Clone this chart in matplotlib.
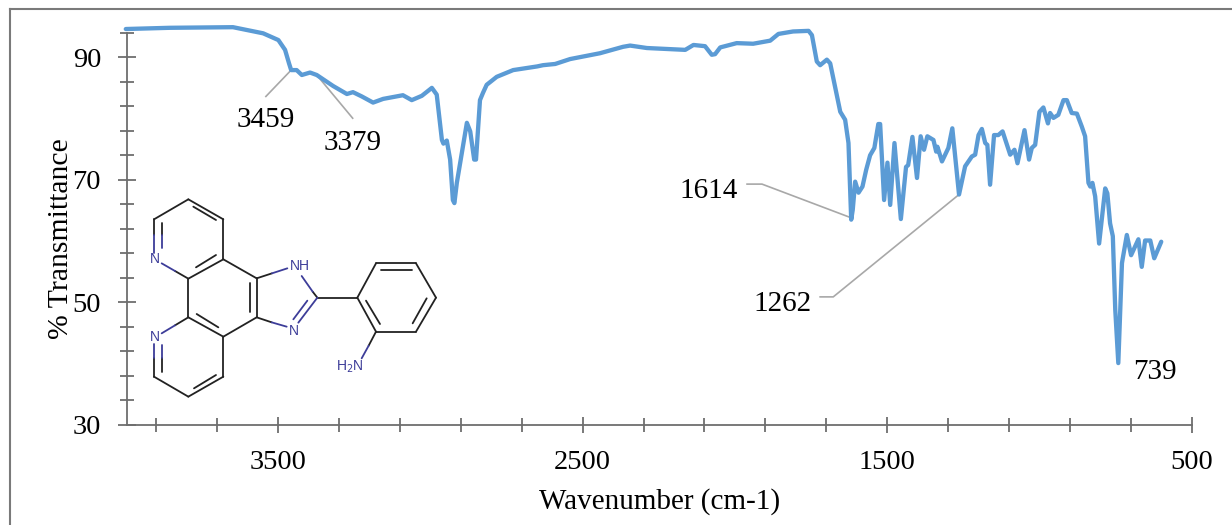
# -*- coding: utf-8 -*-

import matplotlib
matplotlib.use('Agg')
import matplotlib.pyplot as plt
from matplotlib.lines import Line2D

plt.rcParams['font.family'] = ['Liberation Serif', 'DejaVu Serif']

# spectrum
wavenumber = [4000, 3855, 3648, 3603, 3549, 3499, 3477, 3464, 3457, 3439, 3422, 3395, 3373, 3319,
              3274, 3254, 3225, 3188, 3155, 3090, 3061, 3028, 2995, 2979, 2962, 2957, 2946, 2935,
              2926, 2921, 2913, 2880, 2869, 2856, 2850, 2837, 2827, 2815, 2782, 2728, 2649, 2630,
              2590, 2541, 2443, 2367, 2344, 2289, 2163, 2136, 2098, 2076, 2065, 2048, 1994, 1940,
              1884, 1857, 1809, 1758, 1747, 1731, 1720, 1698, 1687, 1654, 1638, 1627, 1618, 1613,
              1605, 1594, 1581, 1569, 1556, 1542, 1529, 1523, 1510, 1499, 1490, 1476, 1455, 1438,
              1431, 1417, 1402, 1390, 1379, 1368, 1348, 1339, 1335, 1320, 1299, 1286, 1264, 1244,
              1222, 1211, 1200, 1189, 1178, 1171, 1162, 1149, 1135, 1121, 1096, 1082, 1072, 1049,
              1034, 1025, 1014, 1000, 987, 972, 965, 954, 938, 921, 910, 894, 877, 861, 850, 839,
              833, 826, 817, 804, 784, 777, 768, 759, 751, 741, 729, 727, 713, 699, 675, 664, 653,
              636, 623, 600]
transmittance = [94.6, 94.8, 94.9, 94.45, 93.9, 92.8, 91.2, 89.0, 87.9, 87.9, 87.1, 87.5, 87.1, 85.3,
                 84.0, 84.3, 83.6, 82.6, 83.2, 83.8, 83.0, 83.7, 85.0, 83.9, 76.5, 75.9, 76.4, 73.3,
                 66.7, 66.2, 69.5, 79.3, 77.9, 73.3, 73.3, 83.0, 84.2, 85.5, 86.8, 87.9, 88.5, 88.7,
                 88.9, 89.7, 90.65, 91.7, 91.9, 91.5, 91.2, 92.0, 91.8, 90.4, 90.5, 91.6, 92.3, 92.2,
                 92.7, 93.8, 94.2, 94.3, 93.6, 89.3, 88.7, 89.6, 89.0, 81.1, 79.8, 76.0, 63.5, 65.1,
                 69.7, 67.9, 68.9, 71.6, 74.0, 75.2, 79.1, 79.1, 66.7, 72.8, 65.9, 76.0, 63.6, 72.1,
                 72.4, 77.0, 70.3, 77.1, 74.9, 77.1, 76.5, 74.6, 75.4, 73.0, 75.2, 78.4, 67.6, 72.2,
                 73.8, 74.1, 77.3, 78.3, 76.0, 75.7, 69.2, 77.3, 77.3, 77.9, 74.1, 74.9, 72.7, 78.1,
                 73.3, 75.2, 75.7, 81.1, 81.8, 79.2, 80.9, 80.1, 80.6, 83.0, 83.0, 80.9, 80.8, 78.7,
                 77.1, 69.5, 68.9, 69.5, 67.3, 59.6, 68.6, 67.8, 62.9, 60.8, 48.8, 40.1, 56.4, 57.0,
                 61.0, 57.7, 60.3, 55.8, 60.1, 60.1, 57.2, 59.9]

x_major = [3500, 2500, 1500, 500]
x_minor = [3900, 3700, 3300, 3100, 2900, 2700, 2300, 2100, 1900, 1700, 1300, 1100, 900, 700]
y_major = [30, 50, 70, 90]
y_minor = [34, 38, 42, 46, 54, 58, 62, 66, 74, 78, 82, 86, 94]

peak_labels = ['3459', '3379', '1614', '1262', '739']
label_wn = [3539, 3254, 2085, 1842, 620]
label_t = [79.8, 76.0, 68.2, 49.8, 38.7]
leaders = [([3457, 3540], [87.9, 83.6]),
           ([3373, 3255], [87.1, 80.05]),
           ([1618, 1911, 1960], [63.8, 69.3, 69.3]),
           ([1264, 1677, 1720], [67.6, 50.9, 50.9])]

# molecule, in units of 1/3 px
black_bonds = [(72, 118, 175, 58), (175, 58, 280, 118), (280, 118, 280, 238), (280, 238, 175, 296),
               (190, 80, 258, 120), (198, 262, 258, 225), (72, 118, 72, 165), (95, 130, 95, 165),
               (175, 296, 135, 273), (280, 238, 380, 295), (380, 295, 380, 412), (380, 412, 280, 470),
               (280, 470, 175, 412), (175, 412, 175, 296), (360, 310, 360, 395), (200, 402, 265, 442),
               (175, 412, 135, 436), (72, 535, 72, 590), (95, 535, 95, 575), (72, 590, 175, 650),
               (175, 650, 280, 590), (280, 590, 280, 470), (192, 625, 258, 585), (380, 295, 426, 280),
               (380, 412, 425, 427), (548, 335, 562, 353), (562, 353, 682, 353), (682, 353, 738, 250),
               (738, 250, 858, 250), (858, 250, 918, 353), (918, 353, 858, 455), (858, 455, 738, 455),
               (738, 455, 682, 353), (752, 270, 845, 270), (890, 355, 848, 430), (708, 362, 750, 432),
               (738, 455, 716, 497)]
blue_bonds = [(72, 165, 72, 218), (95, 165, 95, 205), (135, 273, 95, 250), (135, 436, 95, 460),
              (72, 492, 72, 535), (95, 495, 95, 535), (426, 280, 472, 265), (425, 427, 470, 440),
              (515, 288, 548, 335), (562, 353, 505, 428), (532, 362, 490, 418), (716, 497, 695, 535)]
atom_labels = ['N', 'N', 'NH', 'N', 'H$_2$N']
atom_x = [75, 75, 510, 492, 660]
atom_y = [236, 472, 258, 452, 560]

blue = '#5B9BD5'
gray = '#6e6e6e'
leader_gray = '#a8a8a8'
mol_black = '#222222'
mol_blue = '#3d3d99'

fig = plt.figure(figsize=(12.32, 5.25), dpi=100)
ax = fig.add_axes([126.7 / 1232, 100 / 525, 1065 / 1232, 392.3 / 525])

ax.plot(wavenumber, transmittance, color=blue, lw=3.1, clip_on=False, zorder=3,
        solid_joinstyle='round', solid_capstyle='round')
for lx, ly in leaders:
    ax.plot(lx, ly, color=leader_gray, lw=1.2, clip_on=False, zorder=2)
for s, lx, ly in zip(peak_labels, label_wn, label_t):
    ax.text(lx, ly, s, fontsize=21, ha='center', va='center', color='black')

ax.set_xlim(3997, 500)
ax.set_ylim(30, 94)
ax.set_xticks(x_major)
ax.set_xticks(x_minor, minor=True)
ax.set_yticks(y_major)
ax.set_yticks(y_minor, minor=True)
ax.tick_params(axis='x', which='major', direction='inout', length=11.5, width=1.3, color=gray,
               labelsize=20.5, pad=12)
ax.tick_params(axis='x', which='minor', direction='inout', length=9.5, width=1.3, color=gray)
ax.tick_params(axis='y', which='major', direction='inout', length=13, width=1.3, color=gray,
               labelsize=20.5, pad=12)
ax.tick_params(axis='y', which='minor', direction='inout', length=9.5, width=1.3, color=gray)
for side in ['top', 'right']:
    ax.spines[side].set_visible(False)
for side in ['left', 'bottom']:
    ax.spines[side].set_color(gray)
    ax.spines[side].set_linewidth(1.3)

ax.set_xlabel('Wavenumber (cm-1)', fontsize=21, labelpad=9.5)
ax.set_ylabel('% Transmittance', fontsize=21.4, labelpad=-1, y=0.475)

# outer frame of the pasted figure, only top and left show
fig.add_artist(Line2D([10 / 1232, 1], [516 / 525, 516 / 525], color='#7a7a7a', lw=1.5))
fig.add_artist(Line2D([10 / 1232, 10 / 1232], [0, 516 / 525], color='#7a7a7a', lw=1.5))

mol = fig.add_axes([130 / 1232, 115 / 525, 320 / 1232, 230 / 525])
mol.set_xlim(0, 960)
mol.set_ylim(690, 0)
mol.axis('off')
for x0, y0, x1, y1 in black_bonds:
    mol.plot([x0, x1], [y0, y1], color=mol_black, lw=1.3, solid_capstyle='round')
for x0, y0, x1, y1 in blue_bonds:
    mol.plot([x0, x1], [y0, y1], color=mol_blue, lw=1.3, solid_capstyle='round')
for s, ax_, ay_ in zip(atom_labels, atom_x, atom_y):
    mol.text(ax_, ay_, s, color=mol_blue, fontsize=10, ha='center', va='center',
             family=['Liberation Sans', 'DejaVu Sans'])

plt.savefig('out.png', dpi=100)
